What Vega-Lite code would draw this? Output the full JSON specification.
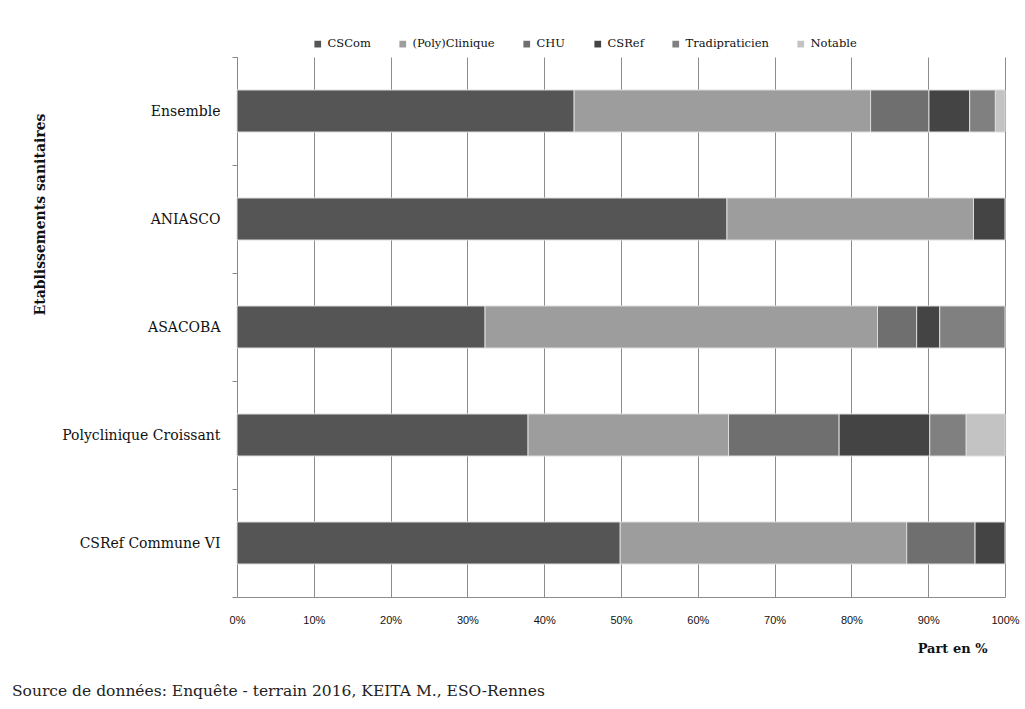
{
  "$schema": "https://vega.github.io/schema/vega-lite/v6.json",
  "width": 768,
  "height": 540,
  "autosize": {"type": "none"},
  "padding": {"left": 237, "top": 57, "right": 20, "bottom": 112},
  "background": "white",
  "title": {
    "text": "Source de données: Enquête - terrain 2016, KEITA M., ESO-Rennes",
    "orient": "bottom",
    "anchor": "start",
    "frame": "group",
    "dx": -225,
    "offset": 29,
    "font": "DejaVu Serif",
    "fontSize": 15.5,
    "fontWeight": "normal",
    "color": "#222222"
  },
  "data": {
    "values": [
      {"etab": "Ensemble", "type": "CSCom", "rang": 1, "part": 43.9},
      {"etab": "Ensemble", "type": "(Poly)Clinique", "rang": 2, "part": 38.6},
      {"etab": "Ensemble", "type": "CHU", "rang": 3, "part": 7.6},
      {"etab": "Ensemble", "type": "CSRef", "rang": 4, "part": 5.3},
      {"etab": "Ensemble", "type": "Tradipraticien", "rang": 5, "part": 3.35},
      {"etab": "Ensemble", "type": "Notable", "rang": 6, "part": 1.25},
      {"etab": "ANIASCO", "type": "CSCom", "rang": 1, "part": 63.8},
      {"etab": "ANIASCO", "type": "(Poly)Clinique", "rang": 2, "part": 32.1},
      {"etab": "ANIASCO", "type": "CSRef", "rang": 4, "part": 4.1},
      {"etab": "ASACOBA", "type": "CSCom", "rang": 1, "part": 32.3},
      {"etab": "ASACOBA", "type": "(Poly)Clinique", "rang": 2, "part": 51.1},
      {"etab": "ASACOBA", "type": "CHU", "rang": 3, "part": 5.1},
      {"etab": "ASACOBA", "type": "CSRef", "rang": 4, "part": 3.0},
      {"etab": "ASACOBA", "type": "Tradipraticien", "rang": 5, "part": 8.5},
      {"etab": "Polyclinique Croissant", "type": "CSCom", "rang": 1, "part": 37.9},
      {"etab": "Polyclinique Croissant", "type": "(Poly)Clinique", "rang": 2, "part": 26.1},
      {"etab": "Polyclinique Croissant", "type": "CHU", "rang": 3, "part": 14.4},
      {"etab": "Polyclinique Croissant", "type": "CSRef", "rang": 4, "part": 11.8},
      {"etab": "Polyclinique Croissant", "type": "Tradipraticien", "rang": 5, "part": 4.75},
      {"etab": "Polyclinique Croissant", "type": "Notable", "rang": 6, "part": 5.05},
      {"etab": "CSRef Commune VI", "type": "CSCom", "rang": 1, "part": 49.9},
      {"etab": "CSRef Commune VI", "type": "(Poly)Clinique", "rang": 2, "part": 37.3},
      {"etab": "CSRef Commune VI", "type": "CHU", "rang": 3, "part": 8.9},
      {"etab": "CSRef Commune VI", "type": "CSRef", "rang": 4, "part": 3.9}
    ]
  },
  "mark": {"type": "bar", "size": 42, "stroke": "#dcdcdc", "strokeWidth": 1},
  "encoding": {
    "y": {
      "field": "etab",
      "type": "nominal",
      "sort": ["Ensemble", "ANIASCO", "ASACOBA", "Polyclinique Croissant", "CSRef Commune VI"],
      "scale": {"paddingInner": 0, "paddingOuter": 0},
      "axis": {
        "title": "Etablissements sanitaires",
        "titleFont": "DejaVu Serif",
        "titleFontSize": 14,
        "titleFontWeight": "bold",
        "titleColor": "#111111",
        "titleX": -197,
        "titleY": 157,
        "titleAlign": "center",
        "titleBaseline": "middle",
        "titleAngle": -90,
        "labelFont": "DejaVu Serif",
        "labelFontSize": 14,
        "labelColor": "#111111",
        "labelPadding": 12,
        "tickBand": "extent",
        "tickSize": 5,
        "tickColor": "#888888",
        "domainColor": "#888888",
        "grid": false
      }
    },
    "x": {
      "field": "part",
      "type": "quantitative",
      "stack": "normalize",
      "scale": {"domain": [0, 1], "nice": false},
      "axis": {
        "format": ".0%",
        "values": [0, 0.1, 0.2, 0.3, 0.4, 0.5, 0.6, 0.7, 0.8, 0.9, 1],
        "title": "Part en %",
        "titleFont": "DejaVu Serif",
        "titleFontSize": 13,
        "titleFontWeight": "bold",
        "titleColor": "#111111",
        "titleX": 750,
        "titleY": 51,
        "titleAlign": "right",
        "titleBaseline": "middle",
        "labelFont": "Liberation Sans",
        "labelFontSize": 11,
        "labelColor": "#111111",
        "labelPadding": 17,
        "labelFlush": false,
        "ticks": false,
        "grid": true,
        "gridColor": "#8c8c8c",
        "gridWidth": 1,
        "domainColor": "#8c8c8c"
      }
    },
    "color": {
      "field": "type",
      "type": "nominal",
      "sort": ["CSCom", "(Poly)Clinique", "CHU", "CSRef", "Tradipraticien", "Notable"],
      "scale": {
        "domain": ["CSCom", "(Poly)Clinique", "CHU", "CSRef", "Tradipraticien", "Notable"],
        "range": ["#555555", "#9d9d9d", "#6f6f6f", "#444444", "#808080", "#c3c3c3"]
      },
      "legend": {
        "title": null,
        "orient": "none",
        "legendX": 75,
        "legendY": -19,
        "direction": "horizontal",
        "columns": 6,
        "columnPadding": 26,
        "symbolType": "square",
        "symbolSize": 45,
        "symbolStrokeWidth": 0,
        "labelFont": "DejaVu Serif",
        "labelFontSize": 11.5,
        "labelColor": "#111111",
        "labelOffset": 4
      }
    },
    "order": {"field": "rang", "type": "quantitative"}
  },
  "config": {
    "view": {"stroke": null},
    "title": {"font": "DejaVu Serif"}
  }
}
